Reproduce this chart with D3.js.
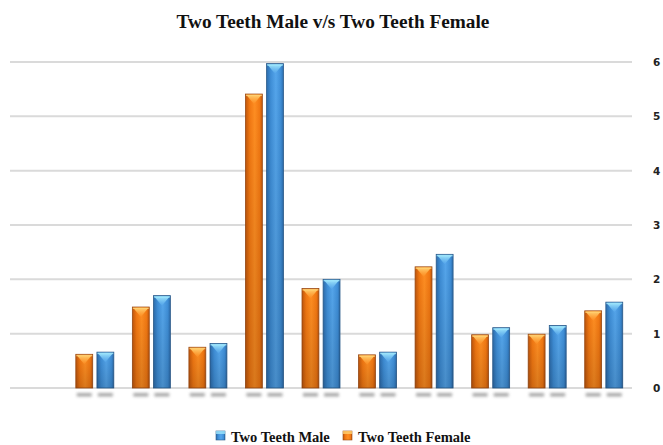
<!DOCTYPE html>
<html><head><meta charset="utf-8">
<script src="https://cdn.jsdelivr.net/npm/d3@7/dist/d3.min.js"></script>
<style>body{margin:0;background:#fff}svg{display:block}</style>
</head><body><svg id="c" width="663" height="445"></svg>
<script>
const categories = ["", "G1", "G2", "G3", "G4", "G5", "G6", "G7", "G8", "G9", "G10"];
const femaleValues = [null, 0.62, 1.49, 0.75, 5.41, 1.83, 0.61, 2.23, 0.98, 0.99, 1.42];
const maleValues   = [null, 0.66, 1.70, 0.82, 5.97, 2.00, 0.66, 2.46, 1.11, 1.15, 1.58];
const tickValues = [0, 1, 2, 3, 4, 5, 6];
const seriesNames = ["Two Teeth Female", "Two Teeth Male"];
const legendOrder = ["Two Teeth Male", "Two Teeth Female"];

const svg = d3.select("#c");
const mLeft = 10, mRight = 632, mTop = 62, mBottom = 388;

const x = d3.scaleBand().domain(categories).range([mLeft, mRight]).paddingInner(0).paddingOuter(0);
const y = d3.scaleLinear().domain([0, 6]).range([mBottom, mTop]);
const inner = d3.scaleBand().domain(seriesNames).range([x.bandwidth()/2 - 19, x.bandwidth()/2 + 19]).paddingInner(0.2);

const colors = {
  "Two Teeth Female": {dark: "#c0560c", mid: "#f27812", light: "#ff8e22", tip: "#ffd070", edge: "#9a4a14"},
  "Two Teeth Male":   {dark: "#2c6cac", mid: "#3f8fd8", light: "#55a6ec", tip: "#9fe6fb", edge: "#2a5a8a"}
};

const defs = svg.append("defs");
Object.entries(colors).forEach(([k, c], i) => {
  const g = defs.append("linearGradient").attr("id", "g" + i).attr("x1", 0).attr("x2", 1).attr("y1", 0).attr("y2", 0);
  g.append("stop").attr("offset", "0%").attr("stop-color", c.dark);
  g.append("stop").attr("offset", "25%").attr("stop-color", c.mid);
  g.append("stop").attr("offset", "55%").attr("stop-color", c.light);
  g.append("stop").attr("offset", "85%").attr("stop-color", c.mid);
  g.append("stop").attr("offset", "100%").attr("stop-color", c.dark);
  const v = defs.append("linearGradient").attr("id", "v" + i).attr("x1", 0).attr("x2", 0).attr("y1", 0).attr("y2", 1);
  v.append("stop").attr("offset", "0%").attr("stop-color", "#000").attr("stop-opacity", 0);
  v.append("stop").attr("offset", "100%").attr("stop-color", "#000").attr("stop-opacity", 0.15);
  const t = defs.append("linearGradient").attr("id", "t" + i).attr("x1", 0).attr("x2", 0).attr("y1", 0).attr("y2", 1);
  t.append("stop").attr("offset", "0%").attr("stop-color", c.tip);
  t.append("stop").attr("offset", "100%").attr("stop-color", c.light).attr("stop-opacity", 0.6);
});
const blur = defs.append("filter").attr("id", "blur").attr("x", "-50%").attr("y", "-100%").attr("width", "200%").attr("height", "300%");
blur.append("feGaussianBlur").attr("stdDeviation", 1.6);
const sel = {"Two Teeth Female": 0, "Two Teeth Male": 1};

// title
svg.append("text").attr("x", 333).attr("y", 28).attr("text-anchor", "middle")
  .attr("font-family", "Liberation Serif, Times New Roman, serif").attr("font-weight", "bold")
  .attr("font-size", 19.3).attr("fill", "#111").text("Two Teeth Male v/s Two Teeth Female");

// gridlines
svg.append("g").selectAll("line").data(tickValues).join("line")
  .attr("x1", mLeft).attr("x2", mRight).attr("y1", d => y(d)).attr("y2", d => y(d))
  .attr("stroke", "#dadada").attr("stroke-width", 2);

// right axis labels
const axis = d3.axisRight(y).tickValues(tickValues).tickSize(0).tickPadding(0).tickFormat(d3.format("d"));
const ag = svg.append("g").attr("transform", `translate(653,0)`).call(axis);
ag.select(".domain").remove();
ag.selectAll("text").attr("font-family", "DejaVu Sans, sans-serif").attr("font-weight", "bold")
  .attr("font-size", 10.5).attr("fill", "#222");

// bar data
const rows = [];
categories.forEach((c, i) => {
  [["Two Teeth Female", femaleValues[i]], ["Two Teeth Male", maleValues[i]]].forEach(([s, v]) => {
    if (v != null) rows.push({c, s, v});
  });
});

const bars = svg.append("g").selectAll("g").data(rows).join("g")
  .attr("transform", d => `translate(${x(d.c) + inner(d.s)},0)`);
const bw = inner.bandwidth();

// shadow
bars.append("rect").attr("x", 1).attr("width", bw - 2).attr("y", mBottom + 5).attr("height", 3.5)
  .attr("fill", "#8a8a8a").attr("opacity", 0.75).attr("filter", "url(#blur)");

bars.append("rect").attr("x", 0).attr("width", bw).attr("y", d => y(d.v)).attr("height", d => mBottom - y(d.v))
  .attr("fill", d => `url(#g${sel[d.s]})`).attr("stroke", d => colors[d.s].edge).attr("stroke-width", 0.8);
bars.append("rect").attr("x", 0).attr("width", bw).attr("y", d => y(d.v)).attr("height", d => mBottom - y(d.v))
  .attr("fill", d => `url(#v${sel[d.s]})`);
// top highlight triangle
bars.append("path")
  .attr("d", d => {
    const t = y(d.v);
    return `M1,${t + 1} L${bw - 1},${t + 1} L${bw / 2},${t + 10} Z`;
  })
  .attr("fill", d => `url(#t${sel[d.s]})`);
bars.append("rect").attr("x", 0.5).attr("width", bw - 1).attr("y", d => y(d.v) + 0.5).attr("height", 1.5)
  .attr("fill", d => colors[d.s].tip).attr("opacity", 0.8);

// legend
const legX = {"Two Teeth Male": 216, "Two Teeth Female": 343};
const lg = svg.append("g").selectAll("g").data(legendOrder).join("g")
  .attr("transform", d => `translate(${legX[d]},431)`);
lg.append("rect").attr("width", 9).attr("height", 9).attr("fill", d => `url(#g${sel[d]})`)
  .attr("stroke", d => colors[d].edge).attr("stroke-width", 0.6);
lg.append("rect").attr("width", 9).attr("height", 3).attr("fill", d => colors[d].tip).attr("opacity", 0.8);
lg.append("text").attr("x", 15).attr("y", 11).attr("font-family", "Liberation Serif, Times New Roman, serif")
  .attr("font-weight", "bold").attr("font-size", 14.5).attr("fill", "#111").text(d => d);
</script></body></html>
